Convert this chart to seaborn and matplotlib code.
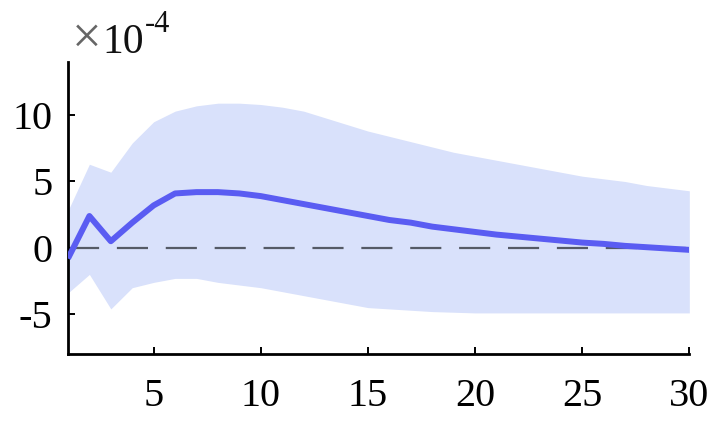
import numpy as np
import pandas as pd
import matplotlib
matplotlib.use("Agg")
import matplotlib.pyplot as plt
import seaborn as sns

# Impulse response (units of 1e-4) with its confidence band
horizon = list(range(1, 31))
response = [-0.8, 2.4, 0.5, 1.9, 3.2, 4.1, 4.2, 4.2, 4.1, 3.9,
            3.6, 3.3, 3.0, 2.7, 2.4, 2.1, 1.9, 1.6, 1.4, 1.2,
            1.0, 0.85, 0.7, 0.55, 0.4, 0.3, 0.15, 0.05, -0.05, -0.15]
upper = [2.8, 6.3, 5.7, 7.9, 9.5, 10.3, 10.7, 10.9, 10.9, 10.8,
         10.6, 10.3, 9.8, 9.3, 8.8, 8.4, 8.0, 7.6, 7.2, 6.9,
         6.6, 6.3, 6.0, 5.7, 5.4, 5.2, 5.0, 4.7, 4.5, 4.3]
lower = [-3.4, -2.0, -4.6, -3.0, -2.6, -2.3, -2.3, -2.6, -2.8, -3.0,
         -3.3, -3.6, -3.9, -4.2, -4.5, -4.6, -4.7, -4.8, -4.85, -4.9,
         -4.9, -4.9, -4.9, -4.9, -4.9, -4.9, -4.9, -4.9, -4.9, -4.9]
x_ticks = [5, 10, 15, 20, 25, 30]
y_ticks = [-5, 0, 5, 10]

df = pd.DataFrame({"h": horizon, "irf": response, "lo": lower, "hi": upper})

sns.set_style("ticks")
plt.rcParams["font.family"] = ["Liberation Serif", "DejaVu Serif"]
plt.rcParams["axes.unicode_minus"] = False

fig = plt.figure(figsize=(7.2, 4.22), dpi=100)
ax = fig.add_axes([0.0944, 0.161, 0.863, 0.692])

ax.fill_between(df["h"], df["lo"], df["hi"], color="#d9e1fb", linewidth=0)
ax.axhline(0, color="#555a66", linewidth=1.6, dashes=(14, 8), zorder=2)
sns.lineplot(data=df, x="h", y="irf", ax=ax, color="#5a5cf2", linewidth=4.3,
             solid_capstyle="butt", zorder=3)

ax.set_xlim(1, 30)
ax.set_ylim(-8, 14)
ax.set_xticks(x_ticks)
ax.set_yticks(y_ticks)
ax.set_xlabel("")
ax.set_ylabel("")
ax.tick_params(direction="in", length=5, width=1.4, labelsize=29, colors="black")
ax.tick_params(axis="x", pad=17)
ax.tick_params(axis="y", pad=11)
for s in ["top", "right"]:
    ax.spines[s].set_visible(False)
for s in ["left", "bottom"]:
    ax.spines[s].set_linewidth(2.0)
    ax.spines[s].set_color("black")

# Scale factor above the y axis
fig.text(72 / 720, 1 - 53 / 422, "\u00d7", fontsize=38, color="#666666",
         va="baseline", ha="left", fontweight="light")
fig.text(102 / 720, 1 - 53 / 422, "10", fontsize=30, color="#111111",
         va="baseline", ha="left")
fig.text(145 / 720, 1 - 32 / 422, "-4", fontsize=22, color="#111111",
         va="baseline", ha="left")

fig.savefig("out.png", dpi=100)
